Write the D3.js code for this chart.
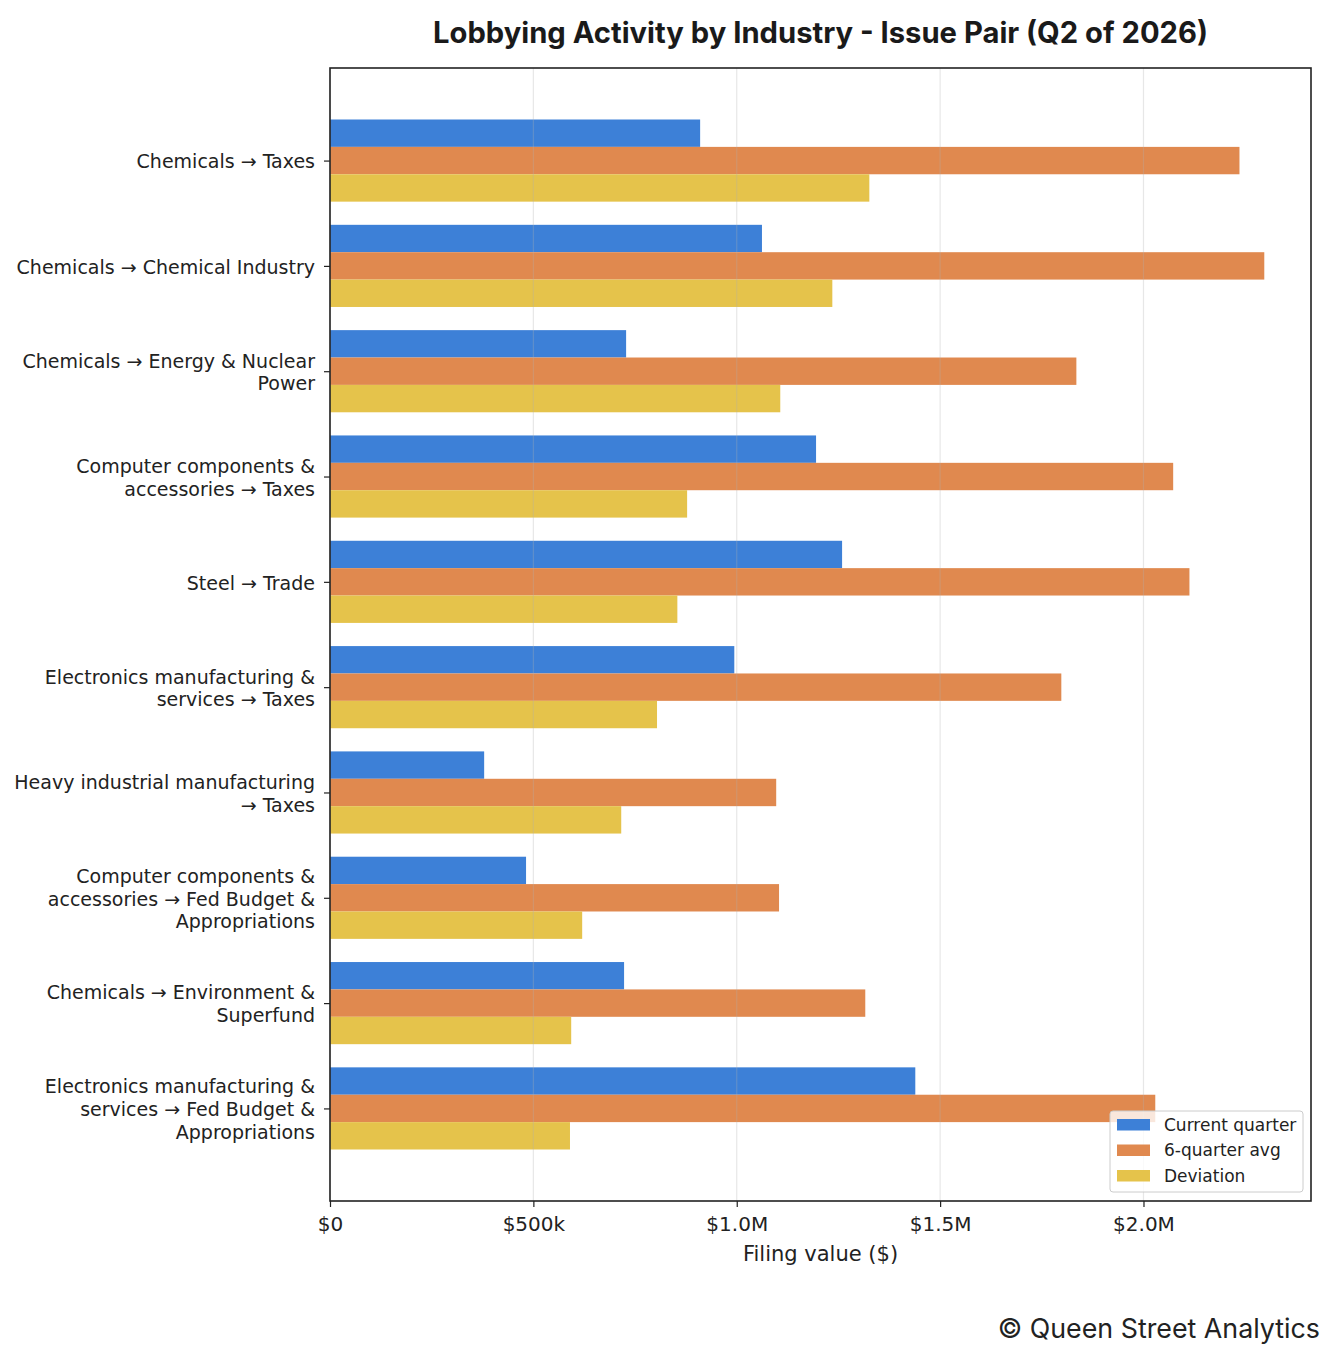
<!DOCTYPE html>
<html>
<head>
<meta charset="utf-8">
<script src="https://cdn.jsdelivr.net/npm/d3@7"></script>
<style>
  html, body { margin: 0; padding: 0; background: #fff; }
  svg { display: block; }
</style>
</head>
<body>
<svg id="chart" width="1336" height="1360"></svg>
<script>
// ---- data ----
const categories = [
  "Chemicals → Taxes",
  "Chemicals → Chemical Industry",
  "Chemicals → Energy & Nuclear Power",
  "Computer components & accessories → Taxes",
  "Steel → Trade",
  "Electronics manufacturing & services → Taxes",
  "Heavy industrial manufacturing → Taxes",
  "Computer components & accessories → Fed Budget & Appropriations",
  "Chemicals → Environment & Superfund",
  "Electronics manufacturing & services → Fed Budget & Appropriations"
];
const currentQuarter = [910000, 1062000, 728000, 1195000, 1259000, 994000, 379000, 482000, 723000, 1439000];
const sixQuarterAvg  = [2236000, 2297000, 1835000, 2073000, 2113000, 1798000, 1097000, 1104000, 1316000, 2029000];
const deviation      = [1326000, 1235000, 1107000, 878000, 854000, 804000, 716000, 620000, 593000, 590000];
const seriesNames = ["Current quarter", "6-quarter avg", "Deviation"];
const xTickValues = [0, 500000, 1000000, 1500000, 2000000];
const xTickLabels = ["$0", "$500k", "$1.0M", "$1.5M", "$2.0M"];

// ---- layout ----
const colors = ["#3d80d7", "#e0894f", "#e5c34b"];
const plot = { left: 330, right: 1311, top: 68, bottom: 1201 };
const svg = d3.select("#chart");

const series = [currentQuarter, sixQuarterAvg, deviation];
const maxVal = d3.max(series.flat());
const x = d3.scaleLinear().domain([0, maxVal * 1.05]).range([plot.left, plot.right]);
const barH = 0.26;
const n = categories.length;
const pad = (n - 1 + 3 * barH) * 0.05;
const y = d3.scaleLinear().domain([-1.5 * barH - pad, n - 1 + 1.5 * barH + pad]).range([plot.top, plot.bottom]);

// bars
series.forEach((vals, s) => {
  svg.append("g").selectAll("rect").data(vals).join("rect")
    .attr("x", x(0))
    .attr("y", (d, i) => y(i + (s - 1) * barH - barH / 2))
    .attr("width", d => x(d) - x(0))
    .attr("height", y(barH) - y(0))
    .attr("fill", colors[s]);
});

// gridlines (drawn over bars, translucent)
svg.append("g").selectAll("line").data(xTickValues).join("line")
  .attr("x1", d => x(d)).attr("x2", d => x(d))
  .attr("y1", plot.top).attr("y2", plot.bottom)
  .attr("stroke", "#b0b0b0").attr("stroke-opacity", 0.3).attr("stroke-width", 1.2);

// x axis
const xAxis = d3.axisBottom(x).tickValues(xTickValues)
  .tickFormat((d, i) => xTickLabels[i]).tickSize(6).tickPadding(10);
const gx = svg.append("g").attr("transform", `translate(0,${plot.bottom})`).call(xAxis);
gx.select(".domain").remove();
gx.selectAll(".tick line").attr("stroke", "#222").attr("stroke-width", 1.2);
gx.selectAll(".tick text").attr("fill", "#222")
  .style("font-family", "DejaVu Sans").style("font-size", "20px");

// y axis
function wrap(str, width) {
  const words = str.split(" ");
  const lines = [];
  let cur = "";
  words.forEach(w => {
    if (cur === "") cur = w;
    else if ((cur + " " + w).length <= width) cur += " " + w;
    else { lines.push(cur); cur = w; }
  });
  if (cur) lines.push(cur);
  return lines;
}
const yAxis = d3.axisLeft(y).tickValues(d3.range(n)).tickFormat(() => "").tickSize(6);
const gy = svg.append("g").attr("transform", `translate(${plot.left},0)`).call(yAxis);
gy.select(".domain").remove();
gy.selectAll(".tick line").attr("stroke", "#222").attr("stroke-width", 1.2);

const lineH = 22.8;
const labels = svg.append("g")
  .style("font-family", "DejaVu Sans").style("font-size", "19px").attr("fill", "#222");
categories.forEach((c, i) => {
  const lines = wrap(c, 30);
  const t = labels.append("text").attr("text-anchor", "end")
    .attr("x", plot.left - 15)
    .attr("y", y(i) - (lines.length - 1) * lineH / 2);
  lines.forEach((l, k) => {
    t.append("tspan").attr("x", plot.left - 15).attr("dy", k === 0 ? "0.41em" : lineH).text(l);
  });
});

// frame
svg.append("rect")
  .attr("x", plot.left).attr("y", plot.top)
  .attr("width", plot.right - plot.left).attr("height", plot.bottom - plot.top)
  .attr("fill", "none").attr("stroke", "#222").attr("stroke-width", 1.6);

// axis title
svg.append("text").attr("x", (plot.left + plot.right) / 2).attr("y", 1261)
  .attr("text-anchor", "middle").attr("fill", "#222")
  .style("font-family", "DejaVu Sans").style("font-size", "21px")
  .text("Filing value ($)");

// chart title
svg.append("text").attr("x", (plot.left + plot.right) / 2).attr("y", 43)
  .attr("text-anchor", "middle").attr("fill", "#1a1a1a")
  .style("font-family", "Inter").style("font-weight", "700").style("font-size", "29.2px")
  .text("Lobbying Activity by Industry - Issue Pair (Q2 of 2026)");

// legend
const lg = svg.append("g").attr("transform", "translate(1110,1111)");
lg.append("rect").attr("width", 193).attr("height", 81).attr("rx", 3)
  .attr("fill", "#fff").attr("fill-opacity", 0.8)
  .attr("stroke", "#cccccc").attr("stroke-width", 1);
seriesNames.forEach((nm, i) => {
  lg.append("rect").attr("x", 7).attr("y", 8 + i * 25.5).attr("width", 33).attr("height", 11.5)
    .attr("fill", colors[i]);
  lg.append("text").attr("x", 54).attr("y", 14 + i * 25.5).attr("dy", "0.35em")
    .attr("fill", "#222")
    .style("font-family", "DejaVu Sans").style("font-size", "17px").text(nm);
});

// footer
svg.append("text").attr("x", 1320).attr("y", 1338).attr("text-anchor", "end")
  .attr("fill", "#222")
  .style("font-family", "Inter").style("font-size", "26.8px")
  .text("© Queen Street Analytics");
</script>
</body>
</html>
